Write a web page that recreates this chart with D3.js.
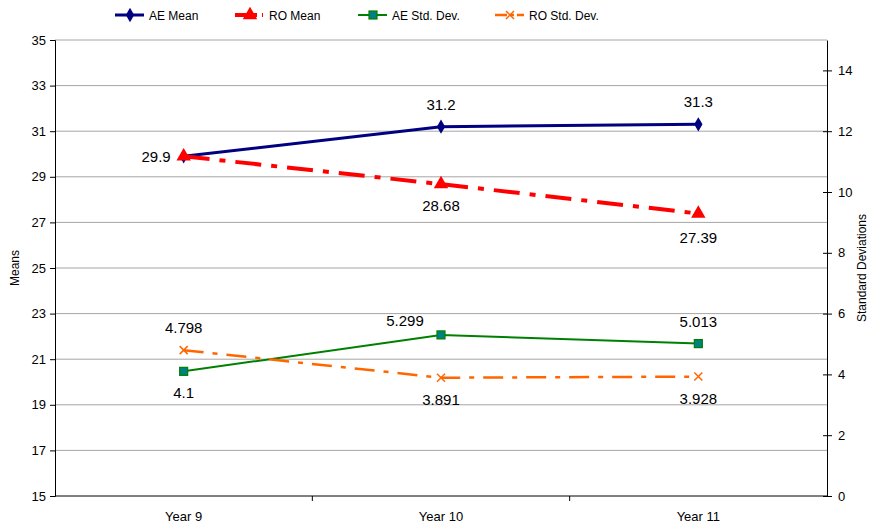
<!DOCTYPE html>
<html>
<head>
<meta charset="utf-8">
<script src="https://cdn.jsdelivr.net/npm/d3@7/dist/d3.min.js"></script>
<style>
  body { margin: 0; background: #fff; }
  svg { display: block; font-family: "Liberation Sans", Arial, sans-serif; }
</style>
</head>
<body>
<svg id="chart" width="875" height="530"></svg>
<script>
// Categories and series
const years = ["Year 9", "Year 10", "Year 11"];
const aeMean = [29.9, 31.2, 31.3];
const roMean = [29.9, 28.68, 27.39];
const aeStd = [4.1, 5.299, 5.013];
const roStd = [4.798, 3.891, 3.928];

// Axis ticks
const meanTicks = [15, 17, 19, 21, 23, 25, 27, 29, 31, 33, 35];
const sdTicks = [0, 2, 4, 6, 8, 10, 12, 14];

const svg = d3.select("#chart");
const m = { left: 55, right: 827, top: 40, bottom: 496 };

const x = d3.scaleBand().domain(years).range([m.left, m.right]);
const cx = d => x(d) + x.bandwidth() / 2;
const yL = d3.scaleLinear().domain([15, 35]).range([m.bottom, m.top]);
const yR = d3.scaleLinear().domain([0, 15]).range([m.bottom, m.top]);

// Horizontal gridlines at the left-axis ticks
svg.append("g").selectAll("line").data(meanTicks.slice(1)).join("line")
  .attr("x1", m.left).attr("x2", m.right)
  .attr("y1", d => yL(d)).attr("y2", d => yL(d))
  .attr("stroke", "#a6a6a6").attr("stroke-width", 1);

// Left axis
const gl = svg.append("g").attr("transform", `translate(${m.left},0)`)
  .call(d3.axisLeft(yL).tickValues(meanTicks).tickSize(5).tickPadding(4));
gl.selectAll("text").attr("font-size", 13).attr("fill", "#000");
gl.selectAll("line, path").attr("stroke", "#000");

// Right axis with crossing tick marks
const gr = svg.append("g").attr("transform", `translate(${m.right},0)`)
  .call(d3.axisRight(yR).tickValues(sdTicks).tickSize(5).tickPadding(6).tickSizeOuter(0));
gr.selectAll(".tick line").attr("x1", -4);
gr.selectAll("text").attr("font-size", 13).attr("fill", "#000");
gr.selectAll("line, path").attr("stroke", "#000");

// Bottom axis: ticks between categories
const gb = svg.append("g").attr("transform", `translate(0,${m.bottom})`);
gb.append("line").attr("x1", m.left).attr("x2", m.right).attr("stroke", "#000");
gb.selectAll("line.sep").data(years.slice(1)).join("line")
  .attr("class", "sep")
  .attr("x1", d => x(d)).attr("x2", d => x(d)).attr("y1", 0).attr("y2", 5)
  .attr("stroke", "#000");
gb.selectAll("text").data(years).join("text")
  .attr("x", d => cx(d)).attr("y", 25)
  .attr("text-anchor", "middle").attr("font-size", 13).text(d => d);

// Axis titles
svg.append("text").attr("transform", `translate(19,${(m.top + m.bottom) / 2}) rotate(-90)`)
  .attr("text-anchor", "middle").attr("font-size", 12).text("Means");
svg.append("text").attr("transform", `translate(866,${(m.top + m.bottom) / 2}) rotate(-90)`)
  .attr("text-anchor", "middle").attr("font-size", 12).text("Standard Deviations");

// Series styles
const series = [
  { name: "AE Mean", values: aeMean, y: yL, color: "#000080", width: 3, dash: null, marker: "diamond", labels: ["none", "above", "above"] },
  { name: "RO Mean", values: roMean, y: yL, color: "#ff0000", width: 4, dash: "26,10,6,10", marker: "triangle", labels: ["left", "below", "below2"] },
  { name: "AE Std. Dev.", values: aeStd, y: yR, color: "#008000", width: 2, dash: null, marker: "square", labels: ["below", "aboveLeft", "above"] },
  { name: "RO Std. Dev.", values: roStd, y: yR, color: "#ff6600", width: 2.5, dash: "20,9,5,9", marker: "x", labels: ["above", "below", "below"] }
];

function drawMarker(g, type, color, px, py) {
  if (type === "diamond") {
    g.append("path").attr("d", d3.symbol(d3.symbolDiamond, 60)())
      .attr("transform", `translate(${px},${py})`).attr("fill", color);
  } else if (type === "triangle") {
    g.append("path").attr("d", d3.symbol(d3.symbolTriangle, 90)())
      .attr("transform", `translate(${px},${py})`).attr("fill", color);
  } else if (type === "square") {
    g.append("rect").attr("x", px - 4).attr("y", py - 4).attr("width", 8).attr("height", 8)
      .attr("fill", "#008080").attr("stroke", color).attr("stroke-width", 1.2);
  } else if (type === "x") {
    g.append("path").attr("d", `M${px - 4},${py - 4}L${px + 4},${py + 4}M${px - 4},${py + 4}L${px + 4},${py - 4}`)
      .attr("stroke", color).attr("stroke-width", 1.5).attr("fill", "none");
  }
}

const labelOffset = {
  above: [0, -17, "middle"],
  aboveLeft: [-36, -9, "middle"],
  below: [0, 27, "middle"],
  below2: [0, 29, "middle"],
  left: [-13, 6, "end"]
};

series.forEach(s => {
  const g = svg.append("g");
  const line = d3.line().x((d, i) => cx(years[i])).y(d => s.y(d));
  g.append("path").datum(s.values).attr("d", line)
    .attr("fill", "none").attr("stroke", s.color).attr("stroke-width", s.width)
    .attr("stroke-dasharray", s.dash);
  s.values.forEach((v, i) => drawMarker(g, s.marker, s.color, cx(years[i]), s.y(v)));
  s.values.forEach((v, i) => {
    const o = labelOffset[s.labels[i]];
    if (!o) return;
    g.append("text").attr("x", cx(years[i]) + o[0]).attr("y", s.y(v) + o[1])
      .attr("text-anchor", o[2]).attr("font-size", 15).text(v);
  });
});

// Legend
const legendX = [115, 235, 358, 495];
const lg = svg.append("g");
series.forEach((s, i) => {
  const lx = legendX[i], ly = 15;
  lg.append("line").attr("x1", lx).attr("x2", lx + 29).attr("y1", ly).attr("y2", ly)
    .attr("stroke", s.color).attr("stroke-width", s.width)
    .attr("stroke-dasharray", s.dash ? (i === 1 ? "22,5,1,5" : "12,3,4,3") : null);
  drawMarker(lg, s.marker, s.color, lx + 15, ly);
  lg.append("text").attr("x", lx + 34).attr("y", ly + 4.5).attr("font-size", 12).text(s.name);
});
</script>
</body>
</html>
